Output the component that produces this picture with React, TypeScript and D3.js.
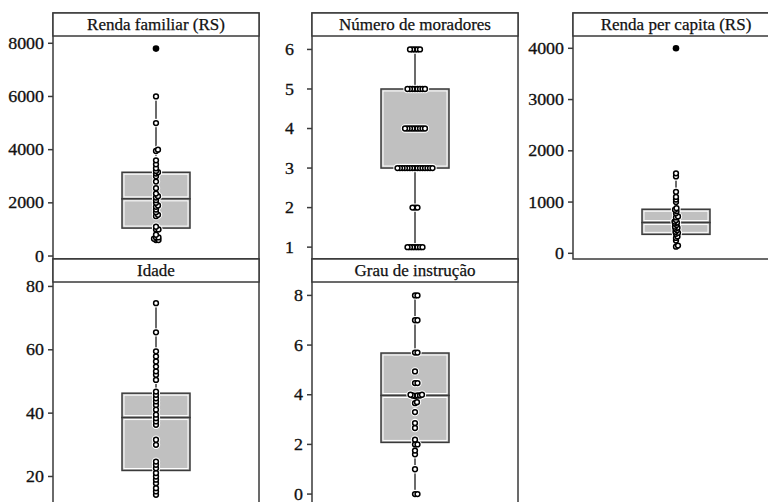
import React from 'react'
import * as d3 from 'd3'

// values
const rendaFamiliar = [600, 600, 650, 700, 700, 800, 1000, 1000, 1100, 1500, 1550, 1650, 1750, 1850, 1900, 2000, 2100, 2200, 2250, 2350, 2550, 2800, 3000, 3100, 3150, 3200, 3300, 3450, 3600, 3950, 4000, 5000, 6000]
const rendaFamiliarOut = [7800]
const rendaFamiliarBox = [1050, 2150, 3150, 600, 6000] // q1, median, q3, low, high
const rendaFamiliarTicks = [0, 2000, 4000, 6000, 8000]

const moradores = [1, 1, 1, 1, 1, 1, 1, 2, 2, 2, 3, 3, 3, 3, 3, 3, 3, 3, 3, 3, 3, 3, 3, 3, 3, 4, 4, 4, 4, 4, 4, 4, 4, 4, 5, 5, 5, 5, 5, 5, 5, 5, 6, 6, 6, 6, 6]
const moradoresBox = [3, 3, 5, 1, 6]
const moradoresTicks = [1, 2, 3, 4, 5, 6]

const rendaPerCapita = [130, 150, 250, 300, 330, 380, 400, 420, 450, 480, 500, 520, 550, 580, 600, 620, 650, 700, 720, 780, 820, 850, 880, 1000, 1050, 1100, 1200, 1500, 1560]
const rendaPerCapitaOut = [4000]
const rendaPerCapitaBox = [370, 600, 860, 130, 1560]
const rendaPerCapitaTicks = [0, 1000, 2000, 3000, 4000]

const idade = [14.2, 15.3, 16.3, 17.9, 19, 20, 21.1, 22.6, 23.7, 24.7, 30, 31.6, 36.3, 37.4, 38.4, 39.5, 41.1, 42.6, 43.7, 44.7, 45.8, 46.8, 50.5, 52.1, 53.2, 54.7, 56.3, 57.9, 59.5, 65.5, 74.7]
const idadeBox = [21.9, 38.6, 46.3, 14.2, 74.7]
const idadeTicks = [20, 40, 60, 80]

const grau = [0, 0, 1, 1.6, 1.75, 2, 2, 2.19, 2.66, 2.86, 3.3, 3.66, 3.7, 3.95, 3.97, 3.97, 3.97, 4, 4, 4.47, 4.47, 4.94, 5.7, 5.7, 7, 7, 8, 8]
const grauBox = [2.08, 3.97, 5.68, 0, 8]
const grauTicks = [0, 2, 4, 6, 8]

const panels = [
  { title: 'Renda familiar (RS)', vals: rendaFamiliar, out: rendaFamiliarOut, box: rendaFamiliarBox, ticks: rendaFamiliarTicks, domain: [-112, 8274], col: 0, row: 0, gap: 4 },
  { title: 'Número de moradores', vals: moradores, out: [], box: moradoresBox, ticks: moradoresTicks, domain: [0.7, 6.34], col: 1, row: 0, gap: 13 },
  { title: 'Renda per capita (RS)', vals: rendaPerCapita, out: rendaPerCapitaOut, box: rendaPerCapitaBox, ticks: rendaPerCapitaTicks, domain: [-111, 4240], col: 2, row: 0, gap: 4 },
  { title: 'Idade', vals: idade, out: [], box: idadeBox, ticks: idadeTicks, domain: [11, 81.4], col: 0, row: 1, gap: 4 },
  { title: 'Grau de instrução', vals: grau, out: [], box: grauBox, ticks: grauTicks, domain: [-0.44, 8.54], col: 1, row: 1, gap: 4 },
]

const W = 768, H = 502
const colX = [53, 312, 573]
const rowY = [13, 259]
const PW = 206, PH = 246, STRIP = 23
const BOXW = 68
const FRAME = '#3a3a3a'
const FONT = "'Liberation Serif', 'DejaVu Serif', serif"

// simple horizontal dodge so coincident points sit side by side
function dodge(ys: number[], minD = 2.1, step = 0.5) {
  const placed: { x: number; y: number }[] = []
  for (const y of ys) {
    let k = 0
    for (;;) {
      const dx = k === 0 ? 0 : (k % 2 ? 1 : -1) * Math.ceil(k / 2) * step
      if (placed.every(p => Math.hypot(p.x - dx, p.y - y) >= minD)) { placed.push({ x: dx, y }); break }
      k++
    }
  }
  return placed
}

function Panel({ p }: { p: typeof panels[number] }) {
  const x0 = colX[p.col], y0 = rowY[p.row]
  const y = d3.scaleLinear().domain(p.domain).range([y0 + PH, y0 + STRIP])
  const cx = x0 + PW / 2
  const [q1, med, q3, lo, hi] = p.box
  const pts = dodge([...p.vals].sort(d3.ascending).map(v => y(v)))
  const half = (a: number, b: number) => (
    <g>
      <rect x={cx - BOXW / 2} y={y(b)} width={BOXW} height={y(a) - y(b)} fill="#c0c0c0" stroke={FRAME} strokeWidth={1.5} />
      {y(a) - y(b) > 5 && <rect x={cx - BOXW / 2 + 2} y={y(b) + 2} width={BOXW - 4} height={y(a) - y(b) - 4} fill="none" stroke="#fff" strokeWidth={1} />}
    </g>
  )
  return (
    <g>
      <line x1={cx} x2={cx} y1={y(hi)} y2={y(q3)} stroke={FRAME} strokeWidth={1.5} />
      <line x1={cx} x2={cx} y1={y(q1)} y2={y(lo)} stroke={FRAME} strokeWidth={1.5} />
      {half(med, q3)}
      {half(q1, med)}
      {pts.map((d, i) => <circle key={'h' + i} cx={cx + d.x} cy={d.y} r={2.7} fill="#fff" stroke="#fff" strokeWidth={3} />)}
      {pts.map((d, i) => <circle key={'c' + i} cx={cx + d.x} cy={d.y} r={2.4} fill="#fff" stroke="#000" strokeWidth={1.5} />)}
      {p.out.map((v, i) => <circle key={'o' + i} cx={cx} cy={y(v)} r={3.3} fill="#000" />)}
      <rect x={x0} y={y0} width={PW} height={PH} fill="none" stroke={FRAME} strokeWidth={1.5} />
      <rect x={x0} y={y0} width={PW} height={STRIP} fill="#fff" stroke={FRAME} strokeWidth={1.5} />
      <text x={cx} y={y0 + 17} textAnchor="middle" style={{ fontFamily: FONT, fontSize: 17 }} fill="#111" stroke="#111" strokeWidth={0.25}>{p.title}</text>
      {p.ticks.map(t => (
        <g key={t}>
          <line x1={x0 - 5} x2={x0} y1={y(t)} y2={y(t)} stroke={FRAME} strokeWidth={1.5} />
          <text transform={`translate(${x0 - 5 - p.gap},${y(t)}) scale(1.12,1)`} dy="0.35em" textAnchor="end"
            style={{ fontFamily: FONT, fontSize: 16 }} fill="#111" stroke="#111" strokeWidth={0.3}>{t}</text>
        </g>
      ))}
    </g>
  )
}

export default function App() {
  return (
    <svg width={W} height={H} style={{ position: 'absolute', left: 0, top: 0, background: '#fff' }}>
      {panels.map(p => <Panel key={p.title} p={p} />)}
    </svg>
  )
}
